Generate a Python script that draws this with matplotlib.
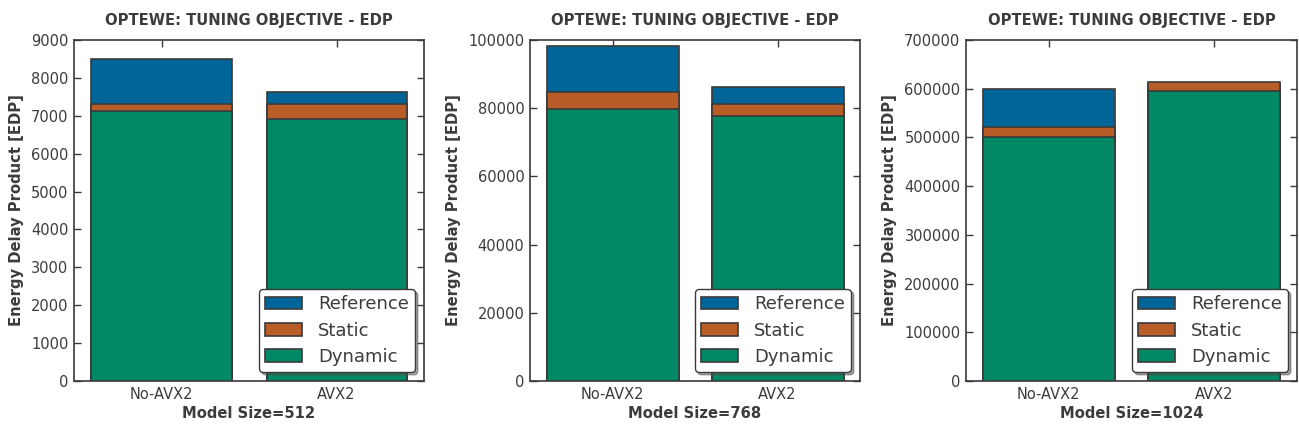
import matplotlib
matplotlib.use("Agg")
import matplotlib.pyplot as plt

# Tuning results (EDP) per model size
configs = ["No-AVX2", "AVX2"]
model_sizes = [512, 768, 1024]
reference = [[8500, 7620], [98200, 86200], [600000, 610000]]
static = [[7310, 7310], [84700, 81300], [522000, 614000]]
dynamic = [[7130, 6910], [79900, 77600], [500000, 595000]]
y_limits = [9000, 100000, 700000]
y_steps = [1000, 20000, 100000]

colors = {"Reference": "#006699", "Static": "#b85c28", "Dynamic": "#008964"}
edge = "#3a3a3a"
text_col = "#3c3c3c"

plt.rcParams["font.family"] = "DejaVu Sans"

fig = plt.figure(figsize=(12.99, 4.34), dpi=100)
positions = [(74, 350), (530, 330), (966, 331)]
W, H = 1299, 434
bottom, top = 381, 40

for i, (x0, w) in enumerate(positions):
    ax = fig.add_axes([x0 / W, 1 - bottom / H, w / W, (bottom - top) / H])
    xs = range(len(configs))
    ax.bar(xs, reference[i], width=0.8, color=colors["Reference"], edgecolor=edge,
           linewidth=1.2, label="Reference", zorder=2)
    ax.bar(xs, static[i], width=0.8, color=colors["Static"], edgecolor=edge,
           linewidth=1.2, label="Static", zorder=3)
    ax.bar(xs, dynamic[i], width=0.8, color=colors["Dynamic"], edgecolor=edge,
           linewidth=1.2, label="Dynamic", zorder=4)
    ax.set_xlim(-0.5, 1.5)
    ax.set_ylim(0, y_limits[i])
    ax.set_yticks(range(0, y_limits[i] + 1, y_steps[i]))
    ax.set_xticks(list(xs))
    ax.set_xticklabels(configs)
    ax.tick_params(direction="in", top=True, right=True, length=5, width=1,
                   colors=edge, labelcolor=text_col, labelsize=10.5, pad=4)
    for s in ax.spines.values():
        s.set_color(edge)
        s.set_linewidth(1.2)
    ax.set_title("OPTEWE: TUNING OBJECTIVE - EDP", fontsize=10.6, fontweight="bold",
                 color=text_col, pad=11)
    ax.set_xlabel(f"Model Size={model_sizes[i]}", fontsize=10.6, fontweight="bold",
                  color=text_col, labelpad=3)
    ax.set_ylabel("Energy Delay Product [EDP]", fontsize=10.6, fontweight="bold",
                  color=text_col, labelpad=5)
    leg = ax.legend(loc="lower right", fontsize=13, shadow=True, fancybox=True,
                    borderaxespad=0.5, handlelength=2.0, handletextpad=0.9,
                    labelspacing=0.45, borderpad=0.35)
    leg.get_frame().set_edgecolor(edge)
    leg.get_frame().set_linewidth(1.0)
    for t in leg.get_texts():
        t.set_color(text_col)
    leg.set_zorder(10)

fig.savefig("out.png", dpi=100)
